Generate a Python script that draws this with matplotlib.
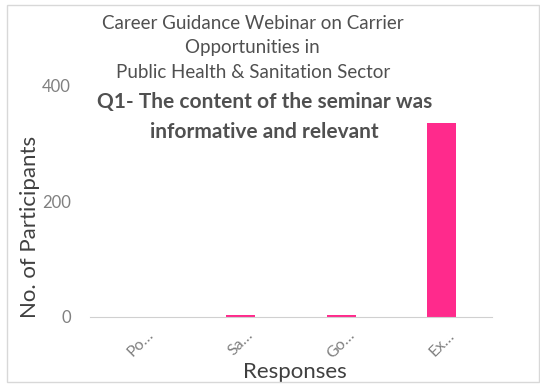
import matplotlib
matplotlib.use("Agg")
import matplotlib.pyplot as plt
from matplotlib.patches import Rectangle

categories = ["Po…", "Sa…", "Go…", "Ex…"]
values = [0, 3, 4, 335]
yticks = [0, 200, 400]

plt.rcParams['font.family'] = ['Lato', 'DejaVu Sans']

fig = plt.figure(figsize=(5.4, 3.87), dpi=100)
ax = fig.add_axes([0.167, 0.181, 0.744, 0.599])

x = range(len(categories))
ax.bar(x, values, width=0.29, color='#FF2A8C')
ax.set_xlim(-0.5, len(categories) - 0.5)
ax.set_ylim(0, 400)
ax.set_yticks(yticks)
ax.set_yticklabels([str(v) for v in yticks], fontsize=12, color='#808080')
ax.set_xticks(list(x))
ax.set_xticklabels(categories, rotation=45, fontsize=11.5, color='#808080')
ax.tick_params(axis='y', length=0, pad=14)
ax.tick_params(axis='x', length=0, pad=8)
for s in ['top', 'right', 'left']:
    ax.spines[s].set_visible(False)
ax.spines['bottom'].set_color('#d0d0d0')
ax.set_ylabel("No. of Participants", fontsize=16, color='#404040')
ax.yaxis.set_label_coords(-0.125, 0.39)
ax.set_xlabel("Responses", fontsize=16, color='#404040')
ax.xaxis.set_label_coords(0.51, -0.195)

fig.text(0.468, 0.962, "Career Guidance Webinar on Carrier\nOpportunities in\nPublic Health & Sanitation Sector",
         ha='center', va='top', fontsize=13.5, color='#505050', fontweight='normal', linespacing=1.55)
fig.text(0.49, 0.762, "Q1- The content of the seminar was\ninformative and relevant",
         ha='center', va='top', fontsize=15, color='#505050', fontweight='bold', linespacing=1.6)

fig.patches.append(Rectangle((0.013, 0.013), 0.985, 0.974, transform=fig.transFigure,
                             fill=False, edgecolor='#d8d8d8', linewidth=1))

fig.savefig("out.png", dpi=100)
